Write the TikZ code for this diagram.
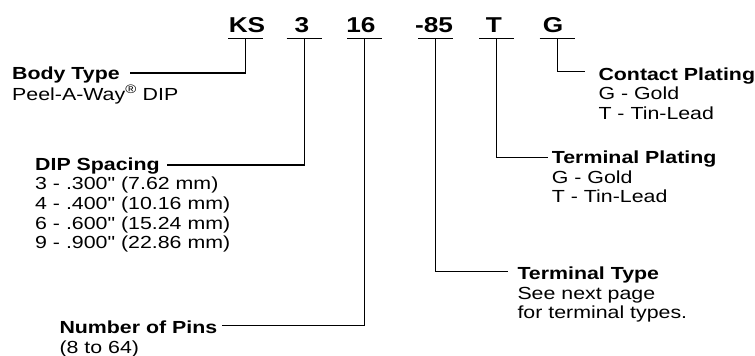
\documentclass[tikz,border=0pt]{standalone}
\usepackage{fontspec}
\setmainfont{Liberation Sans}[FakeStretch=1.22, Ligatures=TeXOff]
\begin{document}
\begin{tikzpicture}[x=1pt,y=-1pt,
  codetxt/.style={font=\fontsize{21.5}{24}\selectfont\bfseries, inner sep=0pt, anchor=base},
  uline/.style={minimum width=35pt, minimum height=0pt, inner sep=0pt, outer sep=0pt},
  conn/.style={draw=black, line width=1.3pt},
  info/.style={font=\fontsize{17.5}{19.7}\selectfont, inner sep=0pt, anchor=base west},
]
\fill[white] (0,0) rectangle (755,356);
\useasboundingbox (0,0) rectangle (755,356);

% part-number codes
\node[codetxt] (ks) at (247,32) {KS};
\node[codetxt] (sp) at (302,32) {3};
\node[codetxt] (pn) at (361,32) {16};
\node[codetxt] (tt) at (434,32) {-85};
\node[codetxt] (tp) at (494,32) {T};
\node[codetxt] (cp) at (553,32) {G};

% underlines
\node[uline] (ksu) at (245.5,38.7) {};
\node[uline] (spu) at (304.2,38.7) {};
\node[uline] (pnu) at (364.7,38.7) {};
\node[uline] (ttu) at (435.8,38.7) {};
\node[uline] (tpu) at (496.5,38.7) {};
\node[uline] (cpu) at (557.2,38.7) {};
\foreach \u in {ksu,spu,pnu,ttu,tpu,cpu}
  \draw[conn] (\u.west) -- (\u.east);

% descriptions
\node[info] (bt) at (12,79.5) {\begin{tabular}[t]{@{}l@{}}\textbf{Body Type}\\ Peel-A-Way\textsuperscript{\textregistered} DIP\end{tabular}};
\node[info] (ds) at (35,170) {\begin{tabular}[t]{@{}l@{}}\textbf{DIP Spacing}\\ 3 - .300" (7.62 mm)\\ 4 - .400" (10.16 mm)\\ 6 - .600" (15.24 mm)\\ 9 - .900" (22.86 mm)\end{tabular}};
\node[info] (np) at (59.3,333.3) {\begin{tabular}[t]{@{}l@{}}\textbf{Number of Pins}\\ (8 to 64)\end{tabular}};
\node[info] (ty) at (517.3,279.3) {\begin{tabular}[t]{@{}l@{}}\textbf{Terminal Type}\\ See next page\\ for terminal types.\end{tabular}};
\node[info] (tl) at (551.7,163.3) {\begin{tabular}[t]{@{}l@{}}\textbf{Terminal Plating}\\ G - Gold\\ T - Tin-Lead\end{tabular}};
\node[info] (cl) at (598.3,80) {\begin{tabular}[t]{@{}l@{}}\textbf{Contact Plating}\\ G - Gold\\ T - Tin-Lead\end{tabular}};

% connector ends
\coordinate (bte) at (130,73);
\coordinate (dse) at (166.7,165);
\coordinate (npe) at (221.7,325.7);
\coordinate (tye) at (508.3,271.7);
\coordinate (tle) at (548.3,157.5);
\coordinate (cle) at (585,71.7);

% connectors
\draw[conn] (ksu.center) |- (bte);
\draw[conn] (spu.center) |- (dse);
\draw[conn] (pnu.center) |- (npe);
\draw[conn] (ttu.center) |- (tye);
\draw[conn] (tpu.center) |- (tle);
\draw[conn] (cpu.center) |- (cle);
\end{tikzpicture}
\end{document}
